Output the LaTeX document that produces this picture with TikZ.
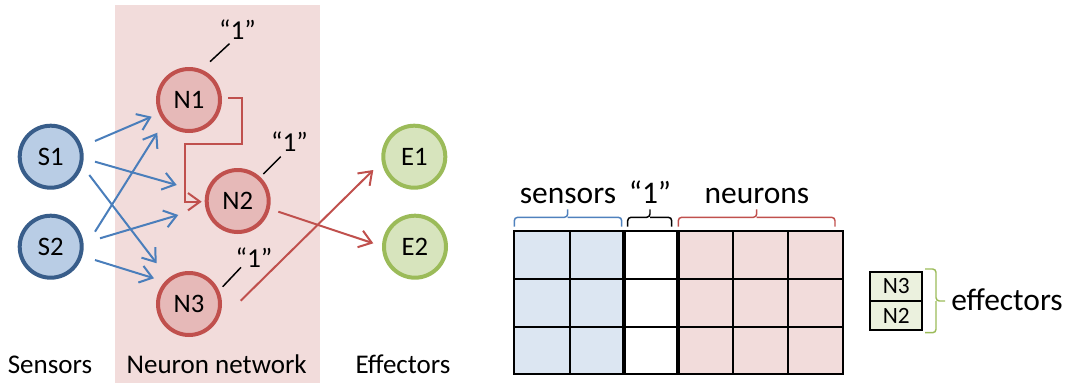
\documentclass[tikz,border=0pt]{standalone}
\usepackage{fontspec}
\setmainfont{Carlito}
\usetikzlibrary{arrows.meta}
\definecolor{sensline}{HTML}{385D8A}
\definecolor{sensfill}{HTML}{B9CDE5}
\definecolor{neurline}{HTML}{C0504D}
\definecolor{neurfill}{HTML}{E6B9B8}
\definecolor{effline}{HTML}{9BBB59}
\definecolor{efffill}{HTML}{D7E4BD}
\definecolor{linkblue}{HTML}{4A7EBB}
\definecolor{braceblue}{HTML}{4F81BD}
\definecolor{netbg}{HTML}{F2DCDB}
\definecolor{cellblue}{HTML}{DCE6F2}
\definecolor{cellpink}{HTML}{F2DCDB}
\definecolor{cellgreen}{HTML}{EBF1DE}
\tikzset{
  sensor/.style={circle, draw=sensline, fill=sensfill, line width=3pt,
    minimum size=46.5pt, inner sep=0pt, font=\fontsize{20}{20}\selectfont},
  neuron/.style={sensor, draw=neurline, fill=neurfill},
  effector/.style={sensor, draw=effline, fill=efffill},
  inlink/.style={draw=linkblue, line width=1.5pt,
    -{Straight Barb[length=9pt,width=13pt]}},
  outlink/.style={inlink, draw=neurline},
  leader/.style={draw=black, line width=1.1pt},
  one/.style={inner sep=0pt, font=\fontsize{20.5}{20.5}\selectfont},
  caption/.style={anchor=base, inner sep=0pt, font=\fontsize{20.25}{20.25}\selectfont},
  head/.style={anchor=base, inner sep=0pt, font=\fontsize{23.6}{23.6}\selectfont},
  bracket/.style={line width=1.1pt, rounded corners=2.5pt},
  cell/.style={draw=black, fill=cellgreen, line width=1.5pt, minimum width=39.2pt,
    minimum height=22pt, inner sep=0pt, font=\fontsize{17.5}{17.5}\selectfont},
}
\begin{document}
\begin{tikzpicture}[x=0.75pt,y=-0.75pt]
\useasboundingbox (0,0) rectangle (1076,383);

% network background
\fill[netbg] (115,5) rectangle (320,383);

% nodes
\node[sensor] (S1) at (50.7,156.7) {S1};
\node[sensor] (S2) at (50.7,246.7) {S2};
\node[neuron] (N1) at (189,100) {N1};
\node[neuron] (N2) at (237.7,201) {N2};
\node[neuron] (N3) at (189,304) {N3};
\node[effector] (E1) at (414.3,156.7) {E1};
\node[effector] (E2) at (415,246.7) {E2};

% bias inputs
\node[one] (l1) at (237.5,29.5) {“1”};
\node[one] (l2) at (289.5,141.5) {“1”};
\node[one] (l3) at (254,257.5) {“1”};
\draw[leader] ([shift={(21,-38.3)}]N1.center) -- ([shift={(-8,4)}]l1.south);
\draw[leader] ([shift={(25.6,-27)}]N2.center) -- ([shift={(-8.8,5)}]l2.south);
\draw[leader] ([shift={(33.7,-17.3)}]N3.center) -- ([shift={(-13,-0.3)}]l3.south);

% sensor connections
\draw[inlink] ([shift={(44.3,-15.7)}]S1.center) -- ([shift={(-37.3,16.7)}]N1.center);
\draw[inlink] ([shift={(44.3,5)}]S1.center) -- ([shift={(-61,-16)}]N2.center);
\draw[inlink] ([shift={(38.6,18.3)}]S1.center) -- ([shift={(-32.3,-40.7)}]N3.center);
\draw[inlink] ([shift={(44.3,-15)}]S2.center) -- ([shift={(-31.7,32.7)}]N1.center);
\draw[inlink] ([shift={(49.3,-8.4)}]S2.center) -- ([shift={(-59.4,14)}]N2.center);
\draw[inlink] ([shift={(44.3,13.3)}]S2.center) -- ([shift={(-35,-25.7)}]N3.center);

% neuron connections
\draw[outlink] ([shift={(39.3,-1.7)}]N1.center) -| ([shift={(52.7,44)}]N1.center)
  -| ([shift={(-52.7,0.7)}]N2.center) -- ([shift={(-36,0.7)}]N2.center);
\draw[outlink] ([shift={(40.6,10.7)}]N2.center) -- ([shift={(-41.7,-3.4)}]E2.center);
\draw[outlink] ([shift={(51.7,-3.3)}]N3.center) -- ([shift={(-41,13.3)}]E1.center);

% captions
\node[caption] (capS) at (50,373.3) {Sensors};
\node[caption] (capN) at (216.7,373.3) {Neuron network};
\node[caption] (capE) at (403,373.3) {Effectors};

% state vector table
\fill[cellblue] (514.3,230.7) rectangle (624,374.3);
\fill[cellpink] (678,230.7) rectangle (842.7,374.3);
\foreach \yy in {279,326.7}
  \draw[line width=1.5pt] (514.3,\yy) -- (842.7,\yy);
\foreach \xx in {570,733,788}
  \draw[line width=1.5pt] (\xx,230.7) -- (\xx,374.3);
\foreach \xx in {624,678}
  \draw[line width=2.4pt] (\xx,230.7) -- (\xx,374.3);
\draw[line width=1.5pt] (514.3,230.7) rectangle (842.7,374.3);

% column groups
\draw[bracket, braceblue] (514.3,226.7) |- (567.7,217.3) -- (567.7,209.3);
\draw[bracket, braceblue] (621.7,226.7) |- (567.7,217.3);
\draw[bracket, black] (627.7,226.7) |- (650,217.3) -- (650,209.3);
\draw[bracket, black] (671.7,226.7) |- (650,217.3);
\draw[bracket, neurline] (678.3,226.7) |- (756.7,217.3) -- (756.7,209.3);
\draw[bracket, neurline] (835,226.7) |- (756.7,217.3);
\node[head] (hS) at (568,203.3) {sensors};
\node[head] (h1) at (650,203.3) {“1”};
\node[head] (hN) at (757,203.3) {neurons};

% effector outputs
\node[cell] (o3) at (896.2,286.4) {N3};
\node[cell] (o2) at (896.2,315.5) {N2};
\draw[bracket, effline] (925,269) -| (936,301) -- (945,301);
\draw[bracket, effline] (925,332.7) -| (936,301);
\node[inner sep=0pt, anchor=west, font=\fontsize{23.6}{23.6}\selectfont] (hE) at (951,300) {effectors};
\end{tikzpicture}
\end{document}
